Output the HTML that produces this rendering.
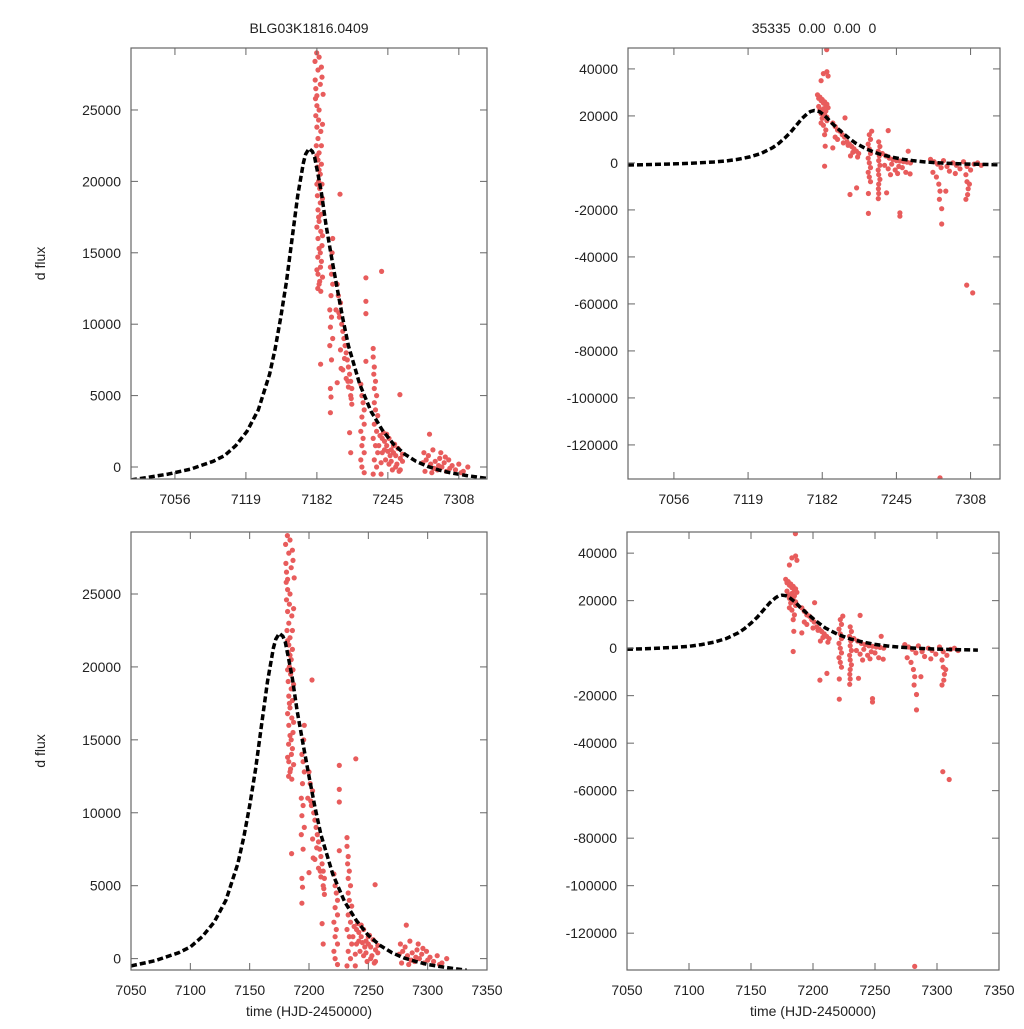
<!DOCTYPE html>
<html><head><meta charset="utf-8"><style>
body{margin:0;background:#fff;}
svg text{font-family:"Liberation Sans",sans-serif;font-size:14px;fill:#222;white-space:pre;}
</style></head><body>
<svg id="chart" width="1024" height="1024" xmlns="http://www.w3.org/2000/svg"></svg>
<script>
// model curve
const modelT=[7017,7030,7050,7070,7090,7100,7110,7120,7130,7140,7145,7150,7155,7160,7165,7170,7172,7175,7178,7180,7183,7186,7190,7195,7200,7205,7210,7220,7230,7240,7250,7260,7270,7280,7290,7300,7315,7333];
const modelF=[-900,-750,-500,-150,400,800,1500,2500,4000,6500,8300,10500,13000,16000,19000,21300,21900,22300,22100,21700,20500,19200,17000,14700,12500,10400,8500,5800,3900,2600,1600,900,400,50,-200,-400,-600,-800];
// left dataset
const obsLT=[7181.8,7180.3,7186,7186.5,7180.5,7181,7187.5,7180.8,7182,7181,7187,7182,7183,7181.5,7184,7183,7182.5,7185,7183.5,7184.5,7182.5,7185,7183,7186,7184,7185.5,7183,7186.5,7185,7182.8,7185.2,7183,7184.5,7182.8,7185.5,7185.3,7202.5,
7184,7183,7185,7182,7184,7183.5,7185.5,7186,7182,7186,7184,7186.5,7182,7187,7183.5,7182,7187,7184,7186,7182,7187,7184,
7196,7195.5,7194,7195,7196,7194.5,7193.5,7195,7194,7196,7193.5,7195,7194,7194.5,7194,
7200,7201,7203,7202,7204,7205,7206,7207,7208,7209,7210,7211,7212,7213,7205,7208,7210,7212,7213,7211,7212,7203.5,7200,
7199,7201.5,7203,7206.5,7209.5,7212.5,
7225.5,7225.5,7225.5,7239.4,7225.5,7255.7,
7221,7222,7223,7224,7222,7224,7221,7223,7222,7224,7221,7222,7224,
7232,7232,7233,7232.5,7234,7233,7235,7233,7234,7236,7233,7235,7232,7234,7236,7233,7235,7232,
7238,7240,7242,7244,7246,7248,7250,7252,7254,7256,7258,7240,7243,7246,7249,7252,7255,7239,7247,7251,7241,7245,7258,
7237,7239,7242,7244,7248,7250,7253,7256,
7277,7279,7281,7283,7285,7287,7289,7291,7293,7295,7297,7299,7302,7305,7308,7312,7316,7278,7284,7290,7296,7300,7310,7282,7292,7276,7286];
const obsLF=[29000,28400,28000,27300,27100,26500,26100,25800,25300,24600,24000,23800,23000,22500,22000,21500,21000,20500,20000,19500,19000,18500,18000,17700,17200,16500,16000,15500,15000,14700,14000,13500,13000,12500,12300,7200,19100,
28700,27800,26800,26000,25000,24300,23500,22500,21800,21200,20800,19800,19800,18800,17500,16800,16200,15300,14400,13800,13300,12800,
16000,15000,14000,13500,12800,12000,11000,10500,9800,9000,8500,7500,5500,4900,3800,
12800,12000,11500,10500,10000,9500,9000,8500,8000,7500,7000,6500,6000,5500,6800,6200,5600,5000,4400,2400,1000,6900,5900,
11000,10800,8200,7600,6000,4800,
13250,11600,10740,13700,7400,5070,
5800,5000,4500,4000,3500,3000,2500,2000,1500,1000,500,0,-400,
8300,7700,7000,6500,6000,5500,5000,4500,4000,3600,3000,2500,2000,1500,1000,500,0,-500,
2200,2000,1800,1500,2000,1200,1000,800,1300,600,400,1000,500,200,-200,0,-300,-500,800,1600,2400,1100,900,
1500,300,1200,2300,400,1500,200,-200,
1000,500,800,200,1200,400,-200,600,0,300,-300,500,100,-200,200,-300,0,-300,-400,100,700,-100,-400,2300,1000,300,-100];
// right dataset
const obsRT=[7185.8,7183,7186,7187,7181,7178,7180,7182,7184,7186,7179,7183,7185,7181,7184,7182,7186,7183,7185,7184,7184.5,7184,7201.3,
7179,7181,7183,7185,7187,7180,7182,7184,7186,7181,
7191,7193,7195,7197,7193,7195,7199,7201,7203,7205,7207,7209,7211,7213,7200,7204,7208,7212,7206,7191,
7205.6,7211.2,7221.2,7221.2,7229.6,7236.7,7248,7248,7238,7224,7255,7256.6,7304.7,7309.8,
7222,7223,7221,7222,7223,7221,7222,7223,7221,7222,7223,
7230,7231,7229.5,7230.5,7230,7231,7229.5,7230,7231,7230,7229.7,7230,
7233,7236,7239,7242,7245,7248,7251,7254,7257,7235,7238,7241,7244,7247,7250,7253,7240,7246,
7274,7277,7280,7283,7285,7288,7290,7293,7296,7299,7302,7305,7308,7311,7314,7317,7276,7279,7281,7282,7281.5,7283.5,7283.5,7287,7304,7305,7306,7305.5,7304,7307,7295,7282];
const obsRF=[48200,38000,38800,37000,35000,29000,28000,27000,26000,25000,24000,23000,22000,21000,20000,19000,18000,16000,14000,12000,7100,-1400,19150,
27500,26500,25500,24500,23500,22500,21500,20500,19500,17000,
17000,15500,14000,13500,11000,10000,12000,11000,9000,8000,7000,6000,5000,4000,8500,7500,4500,2500,3000,6400,
-13460,-10620,-21500,-13000,-15200,-12700,-21260,-22670,13770,13480,4980,-4660,-52000,-55290,
12000,10000,8000,6000,4000,2000,0,-2000,-4000,-6000,-8000,
9000,7000,5000,3000,1000,-1000,-3000,-5000,-7000,-9000,-11000,-13000,
4000,3000,2000,1500,1000,800,500,300,0,-1000,-2500,-500,-3000,-1500,-2000,-4000,-5000,-4500,
1500,500,-500,-2000,1000,-1500,-3500,0,-1000,-2500,500,-1500,-3000,-500,0,-1000,-4000,-6000,-9000,-12000,-15500,-19500,-26000,-12000,-5000,-8000,-11000,-13500,-15500,-9000,-4500,-134000];
const topXTicks=[7056,7119,7182,7245,7308];
const botXTicks=[7050,7100,7150,7200,7250,7300,7350];
const leftYTicks=[0,5000,10000,15000,20000,25000];
const rightYTicks=[40000,20000,0,-20000,-40000,-60000,-80000,-100000,-120000];

const NS='http://www.w3.org/2000/svg';
const svg=document.getElementById('chart');
function mk(tag,attrs,parent){const e=document.createElementNS(NS,tag);for(const k in attrs)e.setAttribute(k,attrs[k]);(parent||svg).appendChild(e);return e;}

function panel(id,x0,x1,y0,y1,tmin,tmax,fmin,fmax,xt,yt,T,F,curveMin,title,xlabel,ylabel){
  const g=mk('g',{});
  
  
  const sx=t=>x0+(t-tmin)/(tmax-tmin)*(x1-x0);
  const sy=f=>y1-(f-fmin)/(fmax-fmin)*(y1-y0);
  const cp=mk('clipPath',{id:'cp-'+id},g);
  mk('rect',{x:x0,y:y0,width:x1-x0,height:y1-y0},cp);
  const pts=mk('g',{'clip-path':'url(#cp-'+id+')'},g);
  
  
  for(let i=0;i<T.length;i++){
    const c=mk('circle',{cx:sx(T[i]).toFixed(1),cy:sy(F[i]).toFixed(1),r:2.6,fill:'#e85c5c'},pts);
    
    
  }
  let d='';
  modelT.forEach((t,i)=>{if(t<curveMin)return;d+=(d?'L':'M')+sx(t).toFixed(1)+','+sy(modelF[i]).toFixed(1);});
  const cv=mk('path',{d:d,fill:'none',stroke:'#000','stroke-width':3.5,'stroke-dasharray':'6,3','stroke-linejoin':'round','clip-path':'url(#cp-'+id+')'},g);
  
  
  const fr=mk('rect',{x:x0,y:y0,width:x1-x0,height:y1-y0,fill:'none',stroke:'#666','stroke-width':1.2},g);
  
  
  xt.forEach(t=>{const x=sx(t);
    mk('line',{x1:x,x2:x,y1:y1,y2:y1-7,stroke:'#666'},g);
    mk('line',{x1:x,x2:x,y1:y0,y2:y0+7,stroke:'#666'},g);
    const tx=mk('text',{x:x,y:y1+25,'text-anchor':'middle'},g);tx.textContent=t;
    
    
  });
  yt.forEach(f=>{const y=sy(f);
    mk('line',{x1:x0,x2:x0+7,y1:y,y2:y,stroke:'#666'},g);
    mk('line',{x1:x1,x2:x1-7,y1:y,y2:y,stroke:'#666'},g);
    const tx=mk('text',{x:x0-10,y:y+5,'text-anchor':'end'},g);tx.textContent=f;
    
    
  });
  if(title){const tt=mk('text',{x:(x0+x1)/2,y:33,'text-anchor':'middle'},g);tt.textContent=title;
    
    }
  if(xlabel){const tt=mk('text',{x:(x0+x1)/2,y:1016,'text-anchor':'middle'},g);tt.textContent=xlabel;
    
    }
  if(ylabel){const cy=(y0+y1)/2;const tt=mk('text',{x:45,y:cy,'text-anchor':'middle',transform:'rotate(-90 45 '+cy+')'},g);tt.textContent=ylabel;
    
    }
}
panel('panel-top-left',131,487,48,479,7017,7333,-840,29340,topXTicks,leftYTicks,obsLT,obsLF,7017,'BLG03K1816.0409',null,'d flux');
panel('panel-top-right',628,1000,48,479,7017,7333,-134500,48900,topXTicks,rightYTicks,obsRT,obsRF,7017,'35335  0.00  0.00  0',null,null);
panel('panel-bottom-left',131,487,532,970,7050,7350,-780,29250,botXTicks,leftYTicks,obsLT,obsLF,7050,null,'time (HJD-2450000)','d flux');
panel('panel-bottom-right',627,999,532,970,7050,7350,-135500,48900,botXTicks,rightYTicks,obsRT,obsRF,7050,null,'time (HJD-2450000)',null);
</script>
</body></html>
